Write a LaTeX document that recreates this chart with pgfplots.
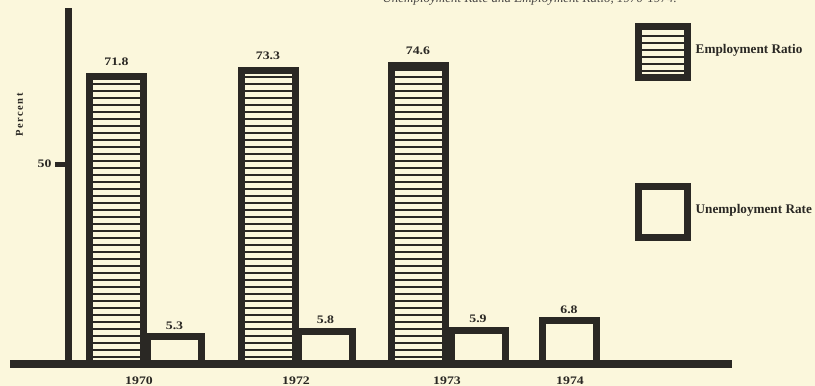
\documentclass[border=0pt]{standalone}
\usepackage{pgfplots}
\pgfplotsset{compat=1.18}
\usetikzlibrary{patterns}
\usepackage{fontspec}
\setmainfont{Liberation Serif}
\newfontfamily\numfont[FakeStretch=1.2]{Liberation Serif}
\definecolor{bg}{RGB}{251,247,220}
\definecolor{ink}{RGB}{42,40,36}
\pgfdeclarepatternformonly{wide hlines}{\pgfpoint{0pt}{0pt}}{\pgfpoint{320pt}{6.5pt}}{\pgfpoint{320pt}{6.5pt}}{%
  \pgfpathrectangle{\pgfpoint{0pt}{2.25pt}}{\pgfpoint{320pt}{2pt}}\pgfusepath{fill}}
\begin{document}
\begin{tikzpicture}
\fill[bg] (0,0) rectangle (815pt,386pt);
\node[anchor=base east, font=\fontsize{13}{15}\selectfont\itshape, text=ink!85, inner sep=0pt] at (677pt,383pt) {Unemployment Rate and Employment Ratio, 1970-1974.};
\begin{axis}[
  at={(10pt,22pt)}, anchor=south west,
  scale only axis, width=722pt, height=356pt,
  xmin=-58, xmax=664, ymin=0, ymax=89,
  axis x line=middle, axis y line=middle,
  axis line style={-, draw=ink},
  x axis line style={line width=8pt},
  y axis line style={line width=7pt},
  xtick={71,228,379,502},
  xticklabels={1970,1972,1973,1974},
  xtick style={draw=none},
  ytick={50}, yticklabels={50},
  ytick style={draw=ink, line width=5pt},
  major tick length=13pt,
  tick align=outside,
  ticklabel style={font=\numfont\bfseries\fontsize{11.5}{13}\selectfont, text=ink},
  xticklabel style={anchor=center, yshift=-4pt},
  yticklabel style={anchor=east},
  ylabel={Percent},
  ylabel style={at={(axis cs:-48.5,62.25)}, anchor=center, rotate=90, font=\bfseries\fontsize{10.5}{12}\selectfont\addfontfeature{LetterSpace=15}, text=ink},
  /pgf/number format/assume math mode=true,
  legend style={at={(axis cs:566.5,85.25)}, anchor=north west, draw=none, fill=none, inner sep=0pt, row sep=102pt, column sep=5pt, font=\bfseries\fontsize{13.2}{15}\selectfont, text=ink, nodes={inner sep=0pt, yshift=3pt}},
  legend cell align=left,
]
\addplot[ybar, bar width=54pt, bar shift=0pt, draw=ink, line width=7pt,
  pattern=wide hlines, pattern color=ink,
  nodes near coords={\pgfmathprintnumber[fixed,fixed zerofill,precision=1]{\pgfplotspointmeta}},
  nodes near coords style={anchor=center, yshift=15pt, font=\numfont\bfseries\fontsize{11.5}{13}\selectfont, text=ink, inner sep=0pt},
  legend image code/.code={\draw[line width=7pt, draw=ink, pattern=wide hlines, pattern color=ink] (0pt,-25.5pt) rectangle (49pt,25.5pt);}]
  coordinates {(48.5,71.8) (200,73.3) (350,74.6)};
\addlegendentry{Employment Ratio}
\addlegendimage{legend image code/.code={\draw[line width=7pt, draw=ink, fill=bg] (0pt,-25.5pt) rectangle (49pt,25.5pt);}}
\addlegendentry{Unemployment Rate}
\end{axis}
\begin{axis}[
  at={(10pt,22pt)}, anchor=south west,
  scale only axis, width=722pt, height=356pt,
  xmin=-58, xmax=664, ymin=2.72, ymax=36.09,
  hide axis,
  /pgf/number format/assume math mode=true,
]
\addplot[ybar, bar width=54pt, bar shift=0pt, draw=ink, line width=7pt, fill=bg,
  nodes near coords={\pgfmathprintnumber[fixed,fixed zerofill,precision=1]{\pgfplotspointmeta}},
  nodes near coords style={anchor=center, yshift=11pt, font=\numfont\bfseries\fontsize{11.5}{13}\selectfont, text=ink, inner sep=0pt}]
  coordinates {(106.5,5.3) (257.5,5.8) (410,5.9) (501,6.8)};
\end{axis}
\pgfresetboundingbox
\useasboundingbox (0,0) rectangle (815pt,386pt);
\end{tikzpicture}
\end{document}
